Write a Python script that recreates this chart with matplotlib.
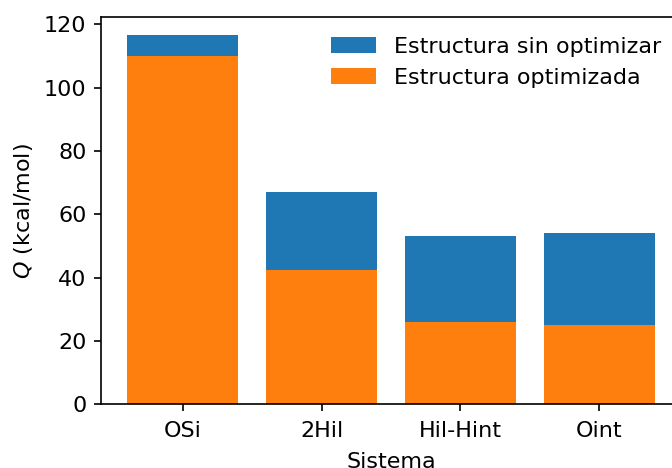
import matplotlib
matplotlib.use("Agg")
import matplotlib.pyplot as plt

sistemas = ["OSi", "2Hil", "Hil-Hint", "Oint"]
sin_optimizar = [116.5, 67.0, 53.0, 54.0]
optimizada = [110.0, 42.4, 26.0, 25.1]

plt.rcParams["font.size"] = 10.7

fig = plt.figure(figsize=(4.48, 3.12), dpi=150)
ax = fig.add_axes([0.1503, 0.1361, 0.863, 0.828])
ax.bar(sistemas, sin_optimizar, color="#1f77b4", label="Estructura sin optimizar")
ax.bar(sistemas, optimizada, color="#ff7f0e", label="Estructura optimizada")
ax.set_ylabel("$Q$ (kcal/mol)")
ax.set_xlabel("Sistema", labelpad=5.5)
ax.set_yticks([0, 20, 40, 60, 80, 100, 120])
ax.tick_params(axis="x", pad=4.3)
ax.spines["right"].set_visible(False)
ax.legend(loc="upper right", frameon=False)
fig.savefig("out.png", dpi=150)
